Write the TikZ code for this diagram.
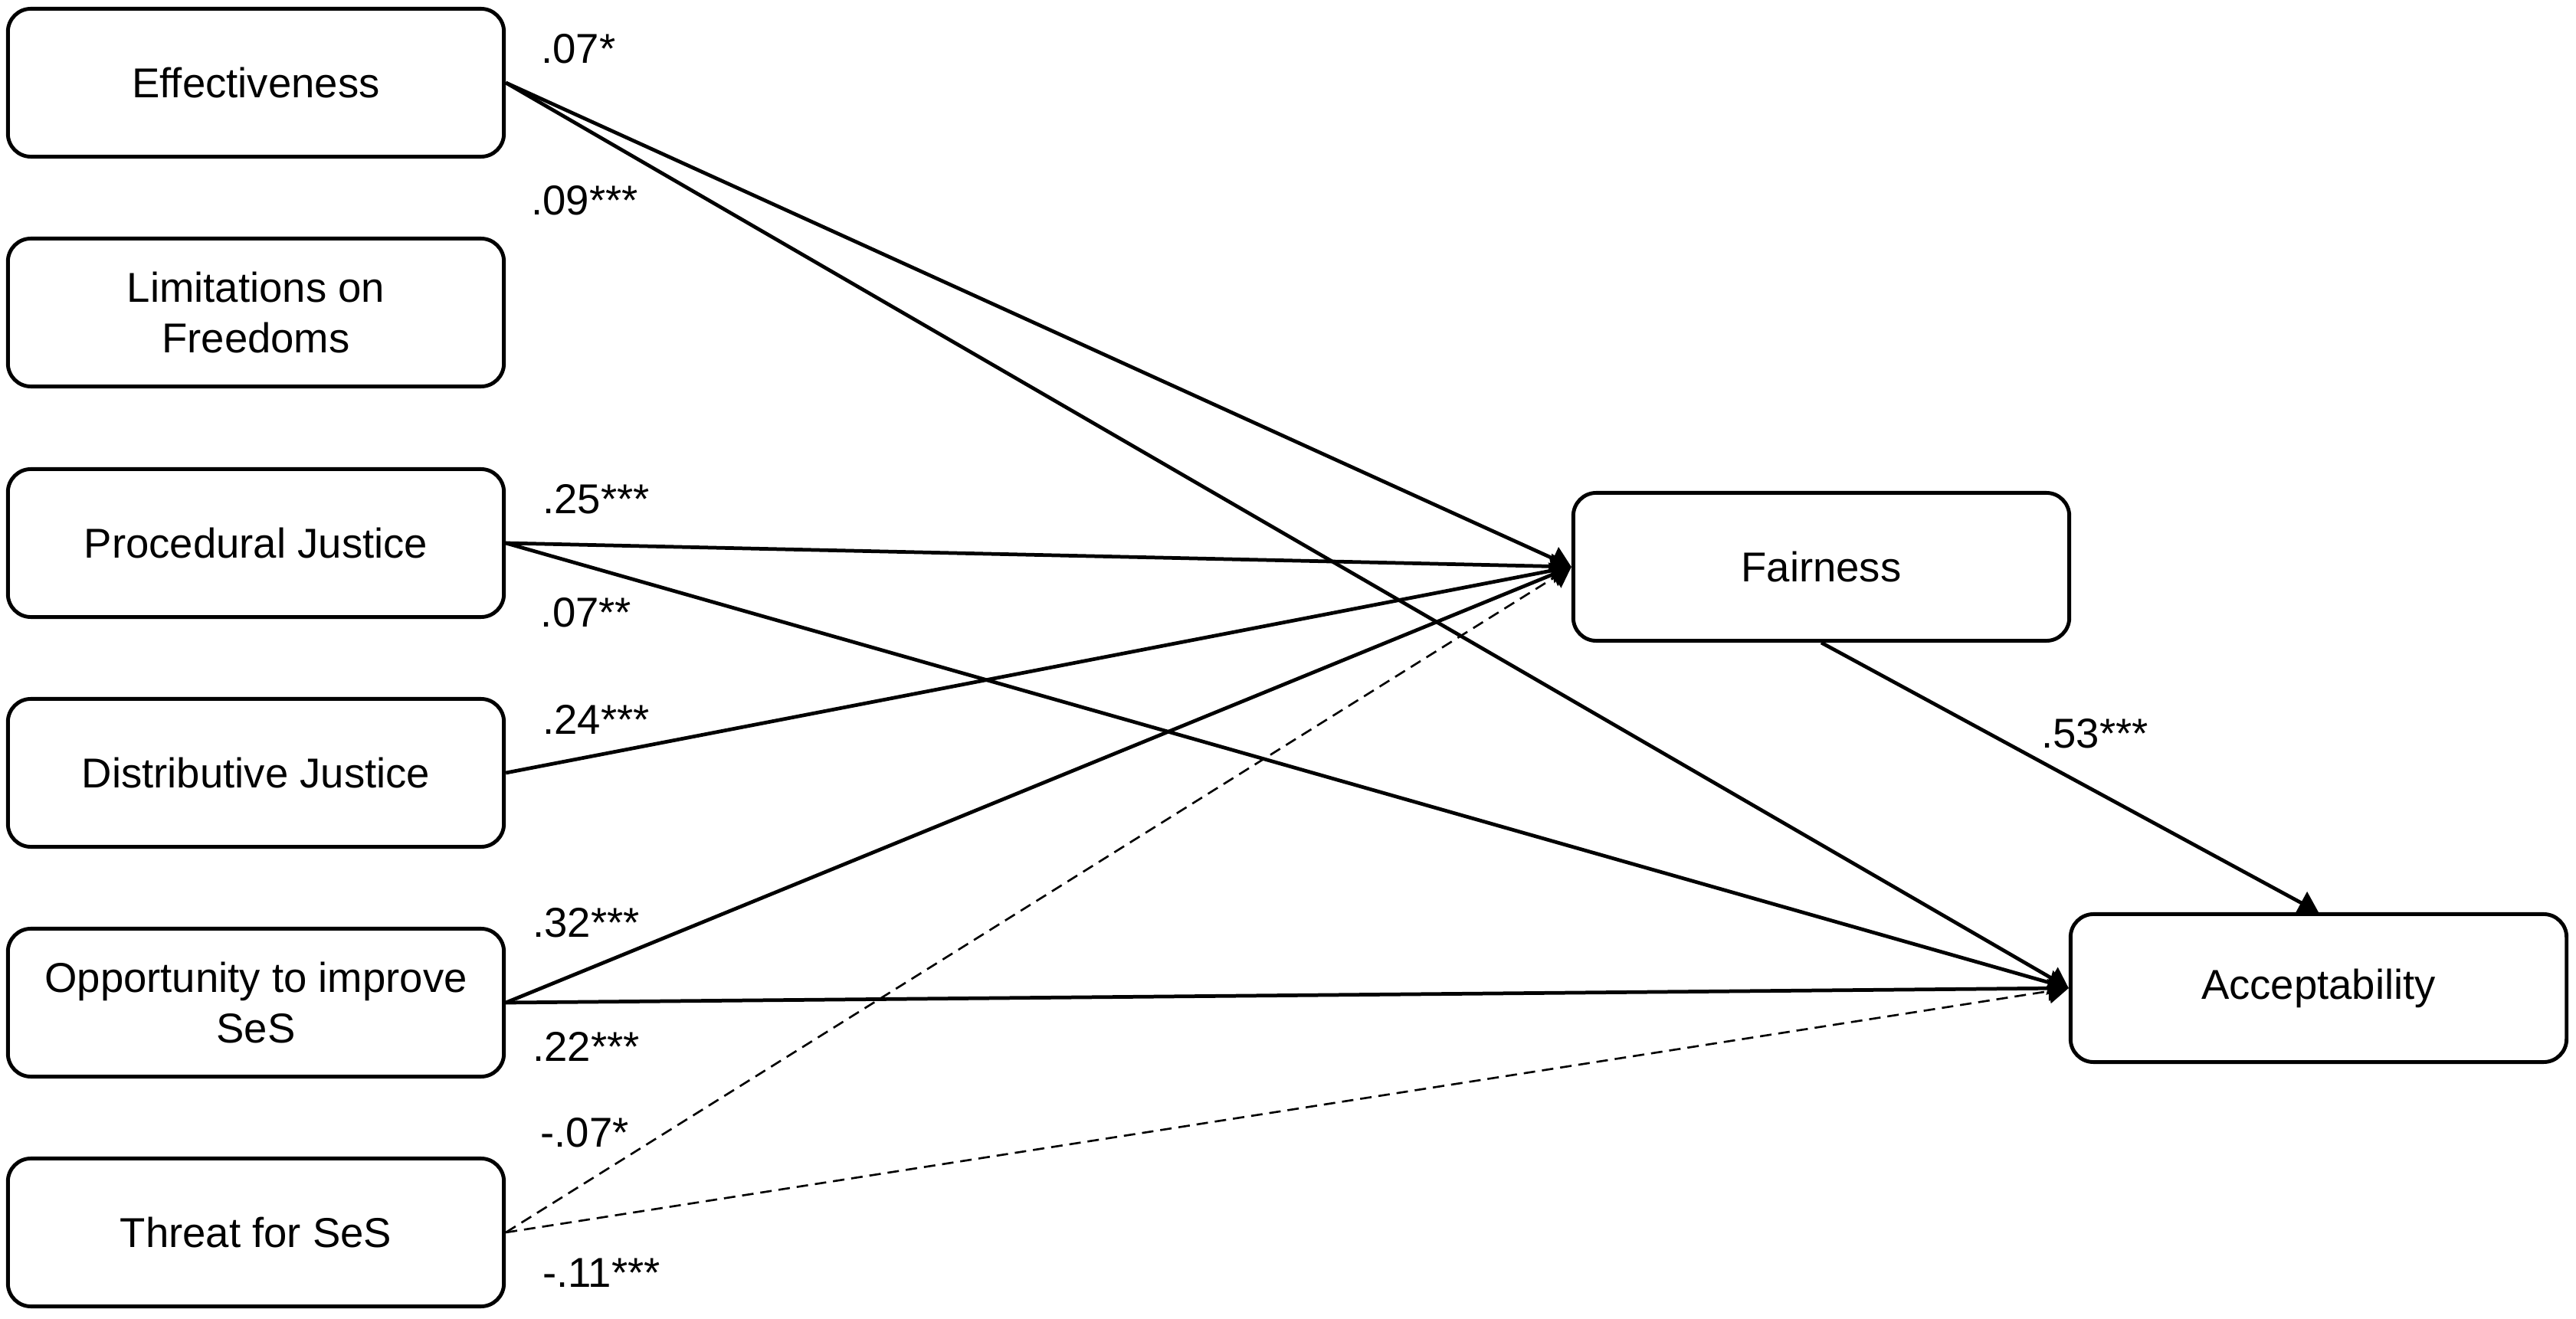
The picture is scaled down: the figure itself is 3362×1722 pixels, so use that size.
\documentclass[tikz,border=0pt]{standalone}
\usepackage{fontspec}
\setmainfont{Liberation Sans}
\usetikzlibrary{arrows.meta}
\begin{document}
\begin{tikzpicture}
  [x=0.01cm,y=-0.01cm,
   every node/.style={font=\fontsize{15.5}{19}\selectfont},
   var/.style={draw,rounded corners=0.3cm,line width=1.4pt,minimum width=6.47cm,
     minimum height=1.93cm,align=center},
   coef/.style={inner sep=0pt},
   effect/.style={-{Triangle[length=0.26cm,width=0.32cm]},line width=1.35pt},
   negeffect/.style={effect,line width=0.75pt,dash pattern=on 0.15cm off 0.09cm}]
  \useasboundingbox (0,0) rectangle (3362,1722);
  \node[var] (eff) at (334,108) {Effectiveness};
  \node[var] (lim) at (334,408) {Limitations on\\Freedoms};
  \node[var] (proc) at (334,709) {Procedural Justice};
  \node[var] (dist) at (334,1009) {Distributive Justice};
  \node[var] (opp) at (334,1309) {Opportunity to improve\\SeS};
  \node[var] (thr) at (334,1609) {Threat for SeS};
  \node[var] (fair) at (2377,740) {Fairness};
  \node[var] (acc) at (3026,1290) {Acceptability};

 \path[effect]
        (eff.east) edge (fair.west)
        (eff.east) edge (acc.west)
        (proc.east) edge (fair.west)
        (proc.east) edge (acc.west)
        (dist.east) edge (fair.west)
        (opp.east) edge (fair.west)
        (opp.east) edge (acc.west)
        (fair.south) edge (acc.north);
 \path[negeffect]
        (thr.east) edge (fair.west)
        (thr.east) edge (acc.west);

  \node[coef] (c1) at (755,64) {.07*};
  \node[coef] (c2) at (763,262) {.09***};
  \node[coef] (c3) at (778,652) {.25***};
  \node[coef] (c4) at (765,800) {.07**};
  \node[coef] (c5) at (778,939) {.24***};
  \node[coef] (c6) at (765,1205) {.32***};
  \node[coef] (c7) at (765,1366) {.22***};
  \node[coef] (c8) at (763,1479) {-.07*};
  \node[coef] (c9) at (785,1662) {-.11***};
  \node[coef] (c10) at (2734,958) {.53***};

\end{tikzpicture}
\end{document}
